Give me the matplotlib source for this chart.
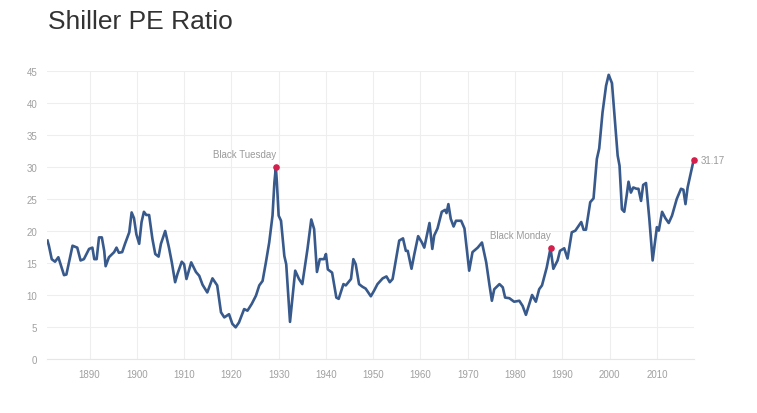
import matplotlib.pyplot as plt

# Valores (ano decimal, CAPE)
years = [1881.1, 1881.4, 1882.0, 1882.7, 1883.4, 1884.6, 1885.1, 1886.4, 1887.4, 1888.1,
         1888.8, 1889.9, 1890.6, 1891.0, 1891.5, 1892.0, 1892.6, 1893.1, 1893.4, 1894.1,
         1895.2, 1895.7, 1896.2, 1896.9, 1897.5, 1898.4, 1898.9, 1899.4, 1899.9, 1900.5,
         1901.0, 1901.5, 1902.0, 1902.6, 1903.3, 1903.9, 1904.6, 1905.1, 1906.0, 1906.8,
         1907.4, 1908.1, 1908.6, 1909.5, 1910.0, 1910.5, 1911.5, 1912.5, 1913.2, 1913.9,
         1914.9, 1916.0, 1917.0, 1917.8, 1918.5, 1919.5, 1920.2, 1920.9, 1921.6, 1922.7,
         1923.4, 1924.3, 1925.2, 1925.9, 1926.6, 1927.3, 1928.0, 1928.7, 1929.1, 1929.4,
         1929.6, 1930.0, 1930.5, 1931.2, 1931.6, 1932.4, 1933.5, 1934.3, 1935.0, 1936.1,
         1936.9, 1937.5, 1938.1, 1938.7, 1939.6, 1940.0, 1940.4, 1941.3, 1942.2, 1942.7,
         1943.7, 1944.2, 1945.3, 1945.8, 1946.3, 1947.0, 1947.7, 1948.4, 1949.5, 1950.2,
         1950.9, 1952.0, 1952.8, 1953.5, 1954.1, 1955.5, 1956.3, 1956.9, 1957.3, 1958.1,
         1958.7, 1959.5, 1960.3, 1960.8, 1961.9, 1962.5, 1962.9, 1963.6, 1964.5, 1965.2,
         1965.5, 1965.9, 1966.4, 1967.0, 1967.5, 1968.6, 1969.3, 1969.7, 1970.3, 1971.0,
         1972.1, 1973.0, 1973.9, 1974.6, 1975.1, 1975.6, 1976.7, 1977.4, 1977.9, 1978.8,
         1979.8, 1980.9, 1981.6, 1982.3, 1983.6, 1984.4, 1985.1, 1985.7, 1986.7, 1987.5,
         1988.1, 1989.0, 1989.5, 1990.4, 1991.1, 1992.0, 1992.75, 1994.0, 1994.5, 1995.0,
         1995.9, 1996.6, 1997.3, 1997.8, 1998.5, 1999.25, 1999.8, 2000.5, 2001.2, 2001.7,
         2002.1, 2002.6, 2003.1, 2003.6, 2004.0, 2004.5, 2005.0, 2005.7, 2006.1, 2006.65,
         2007.1, 2007.7, 2008.4, 2009.1, 2010.0, 2010.4, 2011.1, 2011.8, 2012.5, 2013.2,
         2014.2, 2015.1, 2015.6, 2016.05, 2016.5, 2017.8]
cape = [18.5, 17.7, 15.6, 15.2, 15.9, 13.1, 13.2, 17.7, 17.4, 15.4,
        15.6, 17.2, 17.4, 15.6, 15.6, 19.0, 19.0, 16.9, 14.5, 15.9,
        16.7, 17.4, 16.6, 16.7, 18.0, 19.8, 22.9, 22.0, 19.5, 18.0,
        21.4, 23.0, 22.5, 22.5, 18.75, 16.4, 16.0, 18.0, 20.0, 17.4,
        15.1, 12.0, 13.3, 15.2, 14.8, 12.5, 15.1, 13.6, 13.0, 11.6,
        10.4, 12.6, 11.5, 7.3, 6.5, 7.0, 5.5, 4.95, 5.7, 7.8,
        7.55, 8.6, 9.9, 11.5, 12.2, 15.1, 18.2, 22.4, 27.6, 29.95,
        27.9, 22.4, 21.6, 16.1, 14.8, 5.8, 13.8, 12.5, 11.7, 17.2,
        21.8, 20.3, 13.6, 15.6, 15.6, 16.4, 14.0, 13.5, 9.6, 9.4,
        11.7, 11.5, 12.5, 15.6, 14.8, 11.7, 11.3, 11.0, 9.8, 10.7,
        11.7, 12.6, 12.9, 12.0, 12.5, 18.5, 18.85, 16.9, 16.9, 14.1,
        16.4, 19.2, 18.2, 17.4, 21.25, 17.2, 19.3, 20.4, 23.0, 23.3,
        22.8, 24.2, 21.9, 20.7, 21.6, 21.6, 20.4, 17.7, 13.8, 16.7,
        17.4, 18.2, 15.1, 11.5, 9.1, 10.9, 11.7, 11.2, 9.6, 9.5,
        8.95, 9.1, 8.3, 6.9, 10.0, 8.95, 10.9, 11.5, 14.3, 17.3,
        14.1, 15.4, 16.9, 17.3, 15.7, 19.8, 20.05, 21.4, 20.2, 20.2,
        24.5, 25.1, 31.25, 32.9, 38.5, 42.7, 44.4, 43.1, 36.5, 31.8,
        30.2, 23.4, 23.0, 25.5, 27.7, 26.0, 26.8, 26.6, 26.6, 24.7,
        27.2, 27.5, 21.9, 15.4, 20.6, 20.05, 23.0, 22.0, 21.25, 22.4,
        25.0, 26.6, 26.45, 24.2, 26.8, 31.17]

# Eventos marcados
event_names = ["Black Tuesday", "Black Monday"]
event_years = [1929.4, 1987.5]
event_vals = [29.95, 17.3]

x_ticks = list(range(1890, 2011, 10))
y_ticks = list(range(0, 46, 5))

plt.rcParams['font.family'] = ['Liberation Sans', 'DejaVu Sans']

fig = plt.figure(figsize=(7.57, 4.14), dpi=100)
ax = fig.add_axes([47 / 757, 54 / 414, 647 / 757, 288 / 414])

ax.plot(years, cape, color="#38598b", linewidth=1.9, solid_joinstyle="round", zorder=3)

# Marcadores de eventos
ax.scatter(event_years, event_vals, s=14, color="#d41f4c", zorder=4)
for name, xv, yv in zip(event_names, event_years, event_vals):
    ax.annotate(name, (xv, yv), xytext=(0, 9.5), textcoords="offset points",
                ha="right", va="center", fontsize=7, color="#9a9a9a")

# Ultimo valor
ax.scatter([years[-1]], [cape[-1]], s=14, color="#d41f4c", zorder=4, clip_on=False)
ax.annotate(f"{cape[-1]:.2f}", (years[-1], cape[-1]), xytext=(5, 0),
            textcoords="offset points", ha="left", va="center",
            fontsize=7, color="#9a9a9a")

ax.set_xlim(1881.0, 2017.85)
ax.set_ylim(0, 45)
ax.set_xticks(x_ticks)
ax.set_yticks(y_ticks)
ax.grid(True, color="#eeeeee", linewidth=0.8)
ax.set_axisbelow(True)
for side in ["top", "right", "left"]:
    ax.spines[side].set_visible(False)
ax.spines["bottom"].set_color("#e6e6e6")
ax.tick_params(length=0, labelsize=7, labelcolor="#a0a0a0", pad=7)

fig.text(48 / 757, 1 - 22 / 414, "Shiller PE Ratio", fontsize=19, color="#333333",
         ha="left", va="center")

plt.savefig("out.png", dpi=100)
